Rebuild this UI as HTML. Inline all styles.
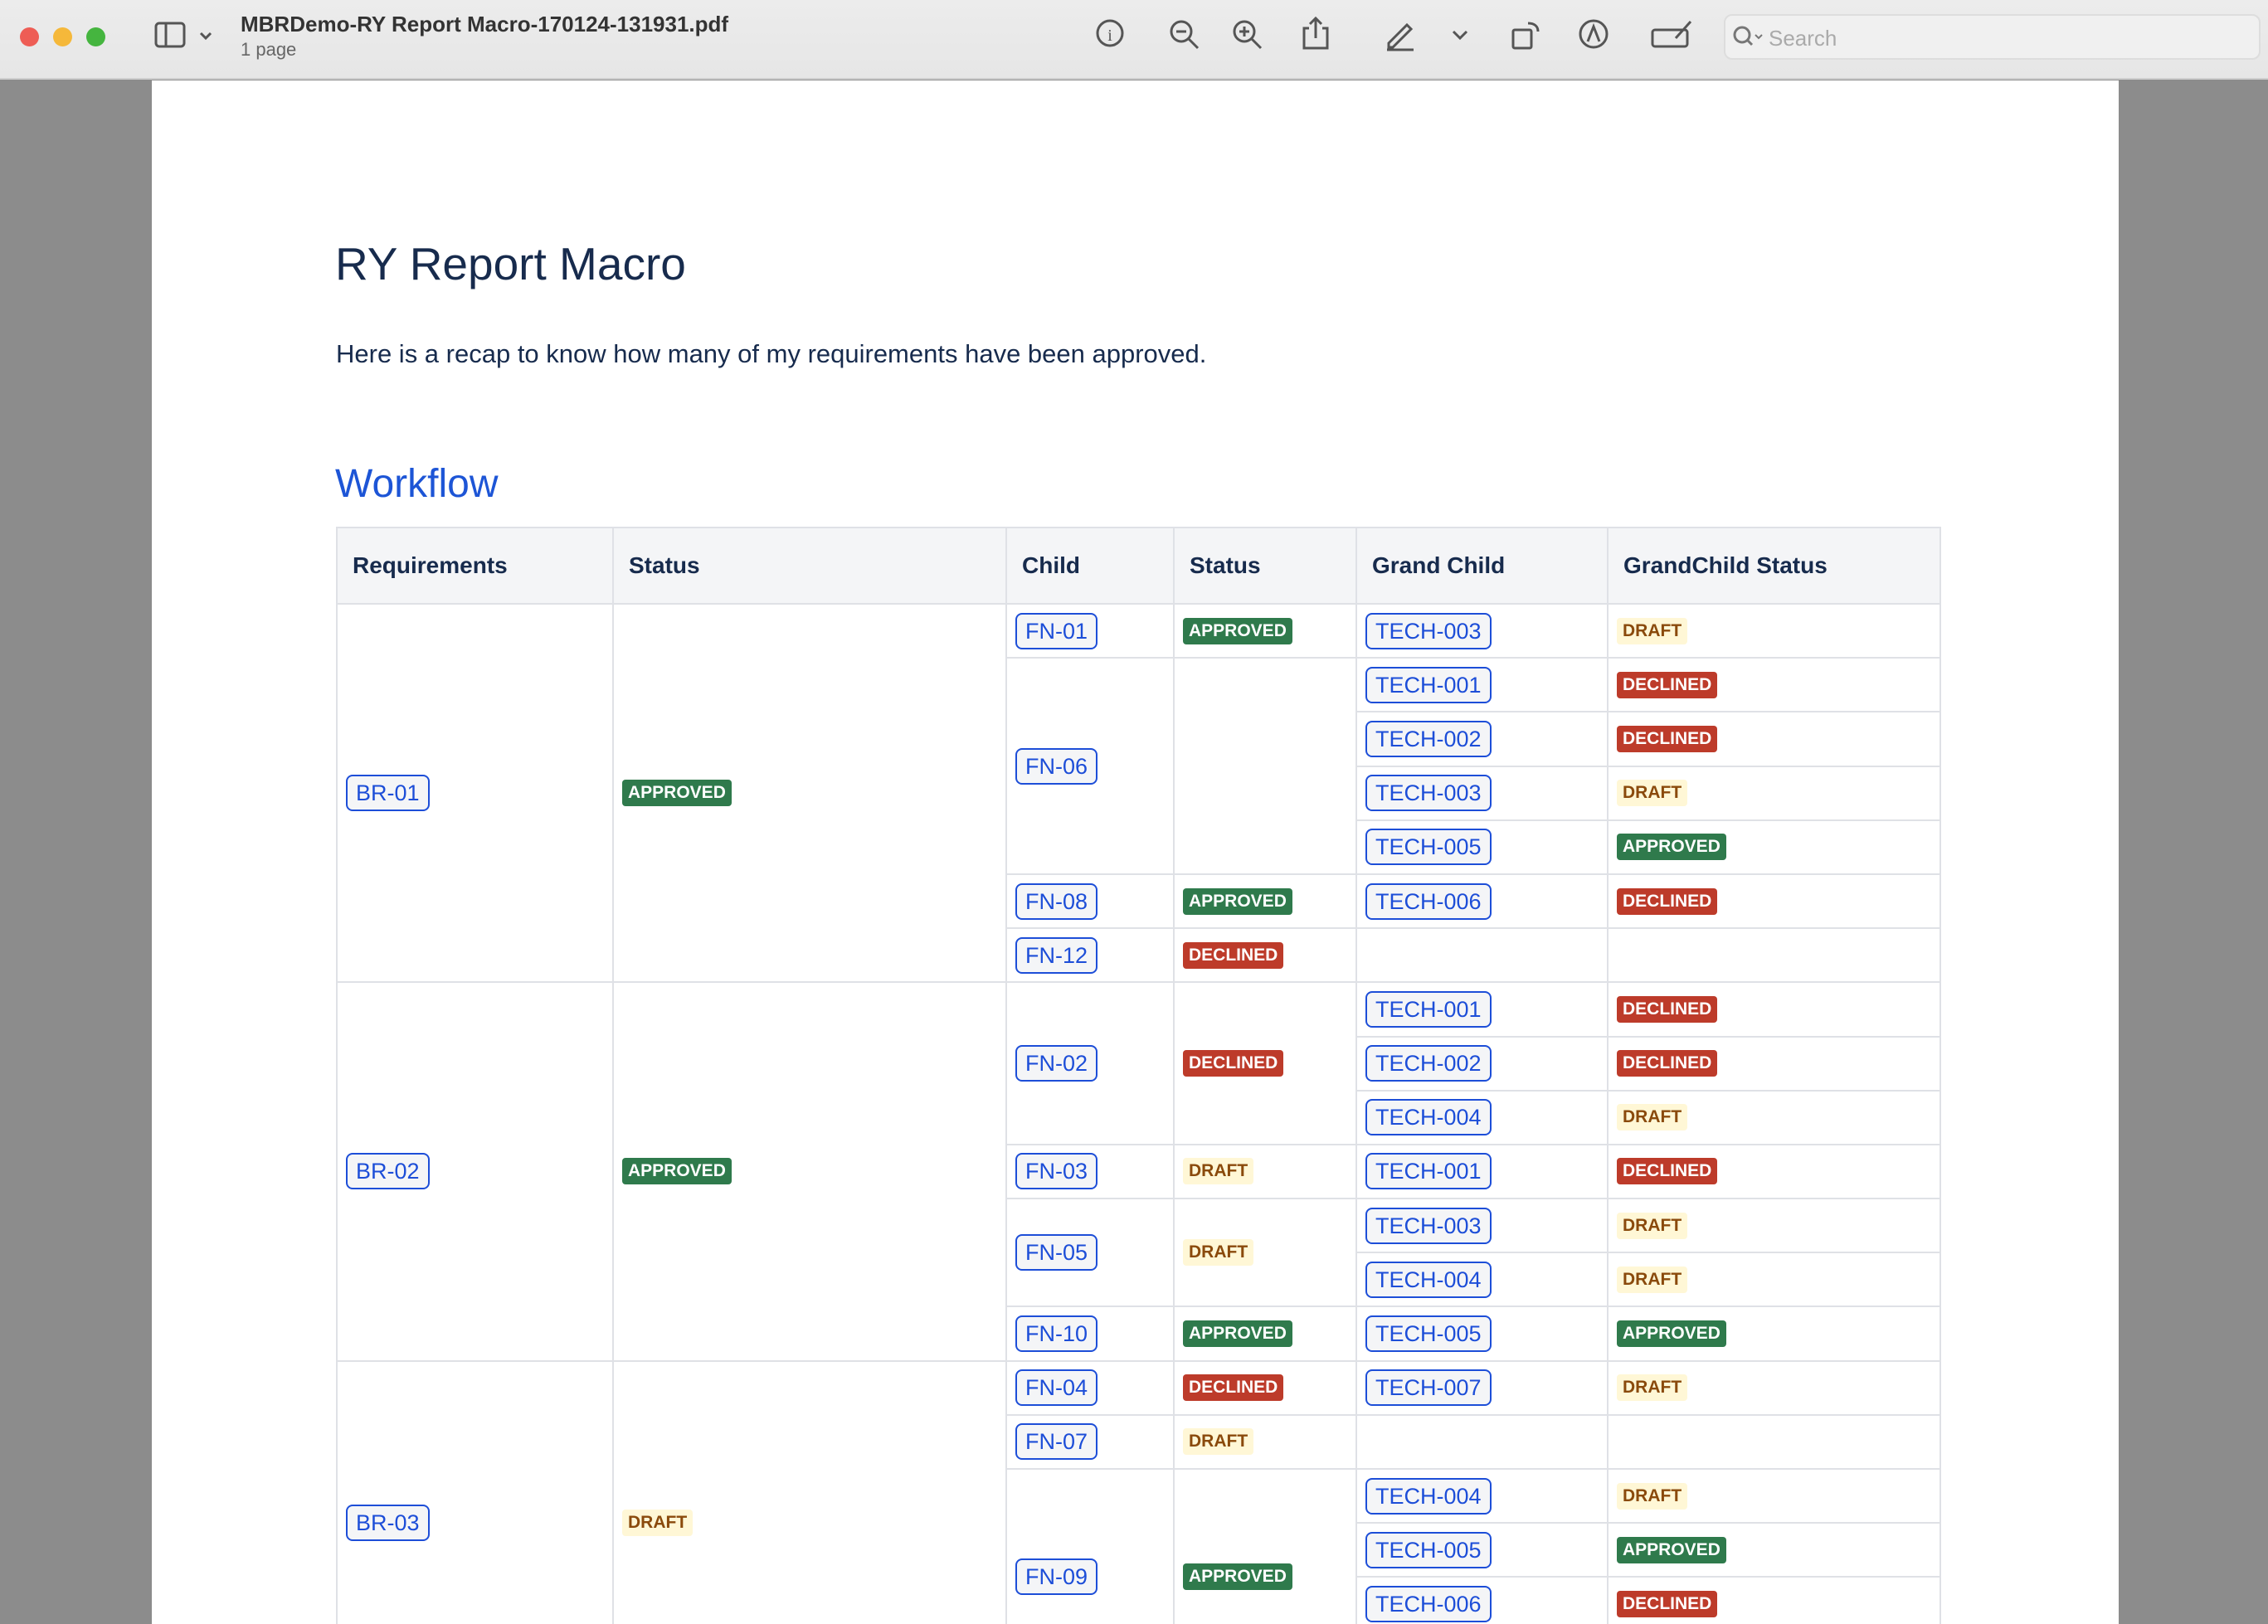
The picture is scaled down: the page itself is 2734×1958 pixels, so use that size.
<!DOCTYPE html>
<html style="width:2734px;height:1958px;overflow:hidden"><head><meta charset="utf-8"><style>
*{margin:0;padding:0;box-sizing:border-box}
body{width:2734px;height:1958px;overflow:hidden;background:#8c8c8c;font-family:"Liberation Sans",Arial,sans-serif;position:relative}
#bar{position:absolute;left:0;top:0;width:2734px;height:96px;background:linear-gradient(#ececec,#e6e6e6);border-bottom:2px solid #cfcfcf}
.dot{position:absolute;top:33px;width:23px;height:23px;border-radius:50%}
#page{position:absolute;left:183px;top:97px;width:2371px;height:1861px;background:#fff;overflow:hidden}
.ic{position:absolute;top:22px}
table{position:absolute;left:222px;top:538px;width:1933px;border-collapse:collapse;table-layout:fixed}
td,th{border:2px solid #dfe1e6;vertical-align:middle;padding-left:10px;text-align:left}
th{background:#f4f5f7;height:92px;font-size:28px;color:#172b4d;padding-left:18px}
td{height:65.2px}
.t{display:inline-block;border:2px solid #1d4ed8;border-radius:8px;background:#f4f5f7;color:#1d4ed8;font-size:27px;padding:2px 10px;line-height:36px}
.b{display:inline-block;font-size:21px;font-weight:bold;padding:3px 7px;border-radius:4px;line-height:26px}
.A{background:#2f7a4c;color:#fff}.D{background:#bd3b2a;color:#fff}.R{background:#fff7d6;color:#8a4a0c}
</style></head><body>
<div id="bar">
<div class="dot" style="left:24px;background:#ee5d55"></div>
<div class="dot" style="left:64px;background:#f5b83a"></div>
<div class="dot" style="left:104px;background:#45b53f"></div>
<svg class="ic" style="left:186px;top:26px" width="70" height="34"><rect x="2" y="2" width="34" height="28" rx="4" fill="none" stroke="#555" stroke-width="3"/><line x1="14" y1="2" x2="14" y2="30" stroke="#555" stroke-width="3"/><path d="M56 14l6 6 6-6" fill="none" stroke="#555" stroke-width="3"/></svg>
<div style="position:absolute;left:290px;top:14px;font-size:26px;font-weight:bold;color:#333">MBRDemo-RY Report Macro-170124-131931.pdf</div>
<div style="position:absolute;left:290px;top:47px;font-size:22px;color:#666">1 page</div>
<svg class="ic" style="left:1320px" width="36" height="36"><circle cx="18" cy="18" r="15" fill="none" stroke="#555" stroke-width="3"/><text x="18" y="27" font-size="20" text-anchor="middle" fill="#555" font-family="Liberation Serif">i</text></svg>
<svg class="ic" style="left:1408px" width="40" height="40"><circle cx="16" cy="16" r="12" fill="none" stroke="#555" stroke-width="3"/><line x1="25" y1="25" x2="36" y2="36" stroke="#555" stroke-width="3"/><line x1="10" y1="16" x2="22" y2="16" stroke="#555" stroke-width="3"/></svg>
<svg class="ic" style="left:1484px" width="40" height="40"><circle cx="16" cy="16" r="12" fill="none" stroke="#555" stroke-width="3"/><line x1="25" y1="25" x2="36" y2="36" stroke="#555" stroke-width="3"/><line x1="10" y1="16" x2="22" y2="16" stroke="#555" stroke-width="3"/><line x1="16" y1="10" x2="16" y2="22" stroke="#555" stroke-width="3"/></svg>
<svg class="ic" style="left:1568px;top:18px" width="36" height="44"><path d="M10 16H4v24h28V16h-6M18 28V4M11 11l7-7 7 7" fill="none" stroke="#555" stroke-width="3"/></svg>
<svg class="ic" style="left:1668px" width="40" height="40"><path d="M6 30L28 8l5 5-22 22H6z" fill="none" stroke="#555" stroke-width="3"/><line x1="4" y1="38" x2="36" y2="38" stroke="#555" stroke-width="3"/></svg>
<svg class="ic" style="left:1748px;top:34px" width="24" height="16"><path d="M4 4l8 8 8-8" fill="none" stroke="#555" stroke-width="3"/></svg>
<svg class="ic" style="left:1820px" width="40" height="40"><rect x="4" y="14" width="22" height="22" rx="2" fill="none" stroke="#555" stroke-width="3"/><path d="M22 6c8 0 12 4 12 10" fill="none" stroke="#555" stroke-width="3"/></svg>
<svg class="ic" style="left:1902px" width="38" height="38"><circle cx="19" cy="19" r="16" fill="none" stroke="#555" stroke-width="3"/><path d="M12 28l7-18 7 18" fill="none" stroke="#555" stroke-width="3"/></svg>
<svg class="ic" style="left:1990px" width="52" height="40"><rect x="2" y="14" width="42" height="20" rx="3" fill="none" stroke="#555" stroke-width="3"/><line x1="30" y1="24" x2="48" y2="4" stroke="#555" stroke-width="3"/></svg>
<div style="position:absolute;left:2078px;top:17px;width:647px;height:55px;border:2px solid #ddd;border-radius:10px;background:#f0f0f0"></div>
<svg class="ic" style="left:2088px;top:30px" width="40" height="30"><circle cx="12" cy="12" r="9" fill="none" stroke="#777" stroke-width="3"/><line x1="18" y1="18" x2="24" y2="24" stroke="#777" stroke-width="3"/><path d="M28 12l4 4 4-4" fill="none" stroke="#777" stroke-width="2"/></svg>
<div style="position:absolute;left:2132px;top:31px;font-size:26px;color:#aaa">Search</div>
</div>
<div id="page">
<div style="position:absolute;left:221px;top:189px;font-size:55px;color:#172b4d">RY Report Macro</div>
<div style="position:absolute;left:222px;top:312px;font-size:31px;color:#172b4d">Here is a recap to know how many of my requirements have been approved.</div>
<div style="position:absolute;left:221px;top:459px;font-size:48px;color:#1d55d6">Workflow</div>
<table>
<colgroup><col style="width:333px"><col style="width:474px"><col style="width:202px"><col style="width:220px"><col style="width:303px"><col style="width:401px"></colgroup>
<tr><th>Requirements</th><th>Status</th><th>Child</th><th>Status</th><th>Grand Child</th><th>GrandChild Status</th></tr>
<tr><td rowspan="7"><span class="t">BR-01</span></td><td rowspan="7"><span class="b A">APPROVED</span></td><td><span class="t">FN-01</span></td><td><span class="b A">APPROVED</span></td><td><span class="t">TECH-003</span></td><td><span class="b R">DRAFT</span></td></tr>
<tr><td rowspan="4"><span class="t">FN-06</span></td><td rowspan="4"></td><td><span class="t">TECH-001</span></td><td><span class="b D">DECLINED</span></td></tr>
<tr><td><span class="t">TECH-002</span></td><td><span class="b D">DECLINED</span></td></tr>
<tr><td><span class="t">TECH-003</span></td><td><span class="b R">DRAFT</span></td></tr>
<tr><td><span class="t">TECH-005</span></td><td><span class="b A">APPROVED</span></td></tr>
<tr><td><span class="t">FN-08</span></td><td><span class="b A">APPROVED</span></td><td><span class="t">TECH-006</span></td><td><span class="b D">DECLINED</span></td></tr>
<tr><td><span class="t">FN-12</span></td><td><span class="b D">DECLINED</span></td><td></td><td></td></tr>
<tr><td rowspan="7"><span class="t">BR-02</span></td><td rowspan="7"><span class="b A">APPROVED</span></td><td rowspan="3"><span class="t">FN-02</span></td><td rowspan="3"><span class="b D">DECLINED</span></td><td><span class="t">TECH-001</span></td><td><span class="b D">DECLINED</span></td></tr>
<tr><td><span class="t">TECH-002</span></td><td><span class="b D">DECLINED</span></td></tr>
<tr><td><span class="t">TECH-004</span></td><td><span class="b R">DRAFT</span></td></tr>
<tr><td><span class="t">FN-03</span></td><td><span class="b R">DRAFT</span></td><td><span class="t">TECH-001</span></td><td><span class="b D">DECLINED</span></td></tr>
<tr><td rowspan="2"><span class="t">FN-05</span></td><td rowspan="2"><span class="b R">DRAFT</span></td><td><span class="t">TECH-003</span></td><td><span class="b R">DRAFT</span></td></tr>
<tr><td><span class="t">TECH-004</span></td><td><span class="b R">DRAFT</span></td></tr>
<tr><td><span class="t">FN-10</span></td><td><span class="b A">APPROVED</span></td><td><span class="t">TECH-005</span></td><td><span class="b A">APPROVED</span></td></tr>
<tr><td rowspan="6"><span class="t">BR-03</span></td><td rowspan="6"><span class="b R">DRAFT</span></td><td><span class="t">FN-04</span></td><td><span class="b D">DECLINED</span></td><td><span class="t">TECH-007</span></td><td><span class="b R">DRAFT</span></td></tr>
<tr><td><span class="t">FN-07</span></td><td><span class="b R">DRAFT</span></td><td></td><td></td></tr>
<tr><td rowspan="4"><span class="t">FN-09</span></td><td rowspan="4"><span class="b A">APPROVED</span></td><td><span class="t">TECH-004</span></td><td><span class="b R">DRAFT</span></td></tr>
<tr><td><span class="t">TECH-005</span></td><td><span class="b A">APPROVED</span></td></tr>
<tr><td><span class="t">TECH-006</span></td><td><span class="b D">DECLINED</span></td></tr>
<tr><td><span class="t">TECH-007</span></td><td><span class="b R">DRAFT</span></td></tr>
</table>
</div>
</body></html>
